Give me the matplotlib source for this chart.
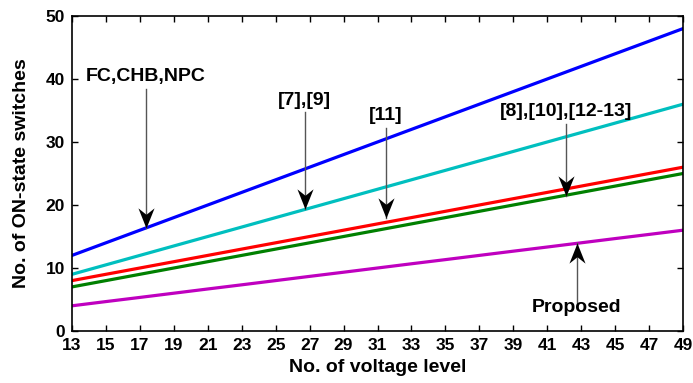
import matplotlib
matplotlib.use("Agg")
import matplotlib.pyplot as plt
from matplotlib.path import Path

levels = [13, 15, 17, 19, 21, 23, 25, 27, 29, 31, 33, 35, 37, 39, 41, 43, 45, 47, 49]
fc_chb_npc = [12, 14, 16, 18, 20, 22, 24, 26, 28, 30, 32, 34, 36, 38, 40, 42, 44, 46, 48]
ref_7_9 = [9, 10.5, 12, 13.5, 15, 16.5, 18, 19.5, 21, 22.5, 24, 25.5, 27, 28.5, 30, 31.5, 33, 34.5, 36]
ref_11 = [8, 9, 10, 11, 12, 13, 14, 15, 16, 17, 18, 19, 20, 21, 22, 23, 24, 25, 26]
ref_8_10_12 = [7, 8, 9, 10, 11, 12, 13, 14, 15, 16, 17, 18, 19, 20, 21, 22, 23, 24, 25]
proposed = [4, 4.67, 5.33, 6, 6.67, 7.33, 8, 8.67, 9.33, 10, 10.67, 11.33, 12, 12.67, 13.33, 14, 14.67, 15.33, 16]
y_ticks = [0, 10, 20, 30, 40, 50]

plt.rcParams['font.family'] = ['Liberation Sans', 'DejaVu Sans']
plt.rcParams['font.weight'] = 'bold'

fig = plt.figure(figsize=(6.93, 3.83), dpi=100)
ax = fig.add_axes([72/693, 1 - 331/383, (683 - 72)/693, (331 - 16)/383])

lw = 2.3
ax.plot(levels, fc_chb_npc, color='#0000ff', lw=lw)
ax.plot(levels, ref_7_9, color='#00bfbf', lw=lw)
ax.plot(levels, ref_11, color='#ff0000', lw=lw)
ax.plot(levels, ref_8_10_12, color='#008000', lw=lw)
ax.plot(levels, proposed, color='#bf00bf', lw=lw)

ax.set_xlim(13, 49)
ax.set_ylim(0, 50)
ax.set_xticks(levels)
ax.set_yticks(y_ticks)
ax.tick_params(direction='in', top=True, right=True, length=4, width=1, labelsize=12.5, pad=5)
for lab in ax.get_xticklabels() + ax.get_yticklabels():
    lab.set_fontweight('bold')
for s in ax.spines.values():
    s.set_linewidth(1.2)

ax.set_xlabel('No. of voltage level', fontsize=14, fontweight='bold', labelpad=4)
ax.set_ylabel('No. of ON-state switches', fontsize=14, fontweight='bold', labelpad=11)

# barbed arrowhead markers (tip at origin)
down_head = Path([(0, 0), (-0.4, 1), (0, 0.68), (0.4, 1), (0, 0)],
                 [Path.MOVETO, Path.LINETO, Path.LINETO, Path.LINETO, Path.CLOSEPOLY])
up_head = Path([(0, 0), (-0.4, -1), (0, -0.68), (0.4, -1), (0, 0)],
               [Path.MOVETO, Path.LINETO, Path.LINETO, Path.LINETO, Path.CLOSEPOLY])

fs = 14
stem = dict(color='#555555', lw=1.0)


def label_arrow(text, x, y_tip, y_text, up=False):
    if up:
        ax.text(x, y_text, text, ha='center', va='top', fontsize=fs, fontweight='bold')
        ax.plot([x, x], [y_tip, y_text - 1.5], **stem)
        ax.plot([x], [y_tip], marker=up_head, markersize=29, color='black', mew=0)
    else:
        ax.text(x, y_text, text, ha='center', va='bottom', fontsize=fs, fontweight='bold')
        ax.plot([x, x], [y_tip, y_text - 0.6], **stem)
        ax.plot([x], [y_tip], marker=down_head, markersize=29, color='black', mew=0)


label_arrow('FC,CHB,NPC', 17.36, 16.4, 39.0)
label_arrow('[7],[9]', 26.7, 19.4, 35.3)
label_arrow('[11]', 31.5, 18.0, 32.8)
label_arrow('[8],[10],[12-13]', 42.1, 21.4, 33.5)
label_arrow('Proposed', 42.75, 13.9, 5.0, up=True)

fig.savefig('out.png', dpi=100)
